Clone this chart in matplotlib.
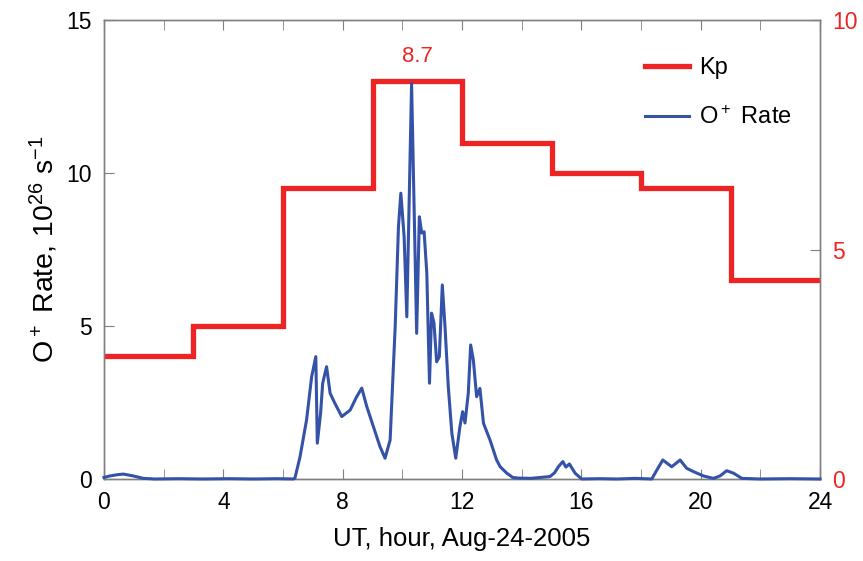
import matplotlib
matplotlib.use("Agg")
import matplotlib.pyplot as plt
from matplotlib.ticker import MultipleLocator

plt.rcParams["font.family"] = ["Liberation Sans", "DejaVu Sans"]
plt.rcParams["mathtext.default"] = "regular"

# Kp, 3-hour bins
kp_edges = [0, 3, 6, 9, 12, 15, 18, 21, 24]
kp_values = [2.67, 3.33, 6.33, 8.67, 7.33, 6.67, 6.33, 4.33]
kp_peak_label = "8.7"

# O+ outflow rate (10^26 s^-1)
hours = [0, 0.2, 0.45, 0.65, 0.98, 1.32, 1.7, 2.5, 3.3, 4.2, 5.0, 5.8, 6.35,
         6.40, 6.57, 6.79, 6.96, 7.10, 7.15, 7.26, 7.33, 7.46, 7.58, 7.74,
         7.97, 8.25, 8.47, 8.64, 8.81, 9.03, 9.25, 9.42, 9.59, 9.76, 9.87,
         9.95, 10.06, 10.15, 10.2, 10.31, 10.43, 10.48, 10.57, 10.65, 10.73,
         10.82, 10.91, 10.98, 11.06, 11.15, 11.24, 11.34, 11.43, 11.54, 11.66,
         11.79, 11.93, 12.02, 12.1, 12.21, 12.29, 12.38, 12.49, 12.6, 12.72,
         12.94, 13.16, 13.28, 13.5, 13.7, 13.89, 14.3, 14.95, 15.1, 15.23,
         15.38, 15.48, 15.6, 15.79, 16.01, 16.6, 17.2, 17.8, 18.36, 18.53,
         18.73, 19.03, 19.31, 19.53, 19.76, 20.09, 20.43, 20.65, 20.87, 21.1,
         21.38, 22.0, 23.0, 24.0]
rate = [0.05, 0.1, 0.14, 0.16, 0.1, 0.02, 0.0, 0.01, 0.0, 0.01, 0.0, 0.01, 0.0,
        0.03, 0.72, 1.93, 3.34, 4.0, 1.17, 2.15, 3.13, 3.67, 2.8, 2.47,
        2.04, 2.25, 2.69, 2.97, 2.36, 1.71, 1.06, 0.68, 1.27, 4.98, 8.25,
        9.34, 7.92, 5.3, 7.7, 12.93, 7.16, 4.76, 8.57, 8.04, 8.08,
        6.73, 3.13, 5.42, 5.1, 3.83, 4.0, 6.34, 4.98, 3.02, 1.49,
        0.68, 1.71, 2.2, 1.83, 2.8, 4.38, 3.89, 2.69, 2.96, 1.82,
        1.27, 0.62, 0.4, 0.19, 0.05, 0.03, 0.02, 0.08, 0.2, 0.4,
        0.57, 0.39, 0.49, 0.19, 0.0, 0.01, 0.0, 0.02, 0.0, 0.29,
        0.62, 0.4, 0.62, 0.35, 0.24, 0.1, 0.02, 0.1, 0.27, 0.19,
        0.02, 0.0, 0.01, 0.0]

red = "#ee2424"
blue = "#3352a8"
spine_gray = "#7f7f7f"

fig = plt.figure(figsize=(8.63, 5.61), dpi=100)
ax = fig.add_axes([0.1205, 0.1462, 0.8297, 0.8181])
ax2 = ax.twinx()

line_rate, = ax.plot(hours, rate, color=blue, lw=2.2, clip_on=False,
                     label="O$^+$ Rate", zorder=3)
kp_line = ax2.stairs(kp_values, kp_edges, baseline=None, color=red, lw=3.8,
                     label="Kp")
ax2.text((kp_edges[3] + kp_edges[4]) / 2, kp_values[3] + 0.3, kp_peak_label,
         color=red, fontsize=16, ha="center", va="bottom")

ax.set_xlim(0, 24)
ax.set_ylim(0, 15)
ax2.set_ylim(0, 10)
ax.set_zorder(ax2.get_zorder() + 1)
ax.patch.set_visible(False)

ax.xaxis.set_major_locator(MultipleLocator(4))
ax.xaxis.set_minor_locator(MultipleLocator(2))
ax.yaxis.set_major_locator(MultipleLocator(5))
ax2.yaxis.set_major_locator(MultipleLocator(5))

ax.tick_params(axis="both", which="both", direction="in", length=7,
               color=spine_gray, labelsize=16.5, pad=9, top=True)
ax.tick_params(axis="y", right=False)
ax2.tick_params(axis="y", direction="in", length=7, color=spine_gray,
                labelsize=16.5, labelcolor=red, pad=9)

for a in (ax, ax2):
    for s in a.spines.values():
        s.set_color(spine_gray)
        s.set_linewidth(1.0)

ax.set_xlabel("UT, hour, Aug-24-2005", fontsize=18.5, labelpad=9)
ax.set_ylabel("O$^+$ Rate, 10$^{26}$ s$^{-1}$", fontsize=20.5, labelpad=4)

ax.legend([kp_line, line_rate], ["Kp", "O$^+$ Rate"], loc="upper right",
          frameon=False, fontsize=17, handlelength=1.9, handletextpad=0.4,
          labelspacing=1.15, bbox_to_anchor=(0.99, 0.965))

fig.savefig("out.png", dpi=100)
